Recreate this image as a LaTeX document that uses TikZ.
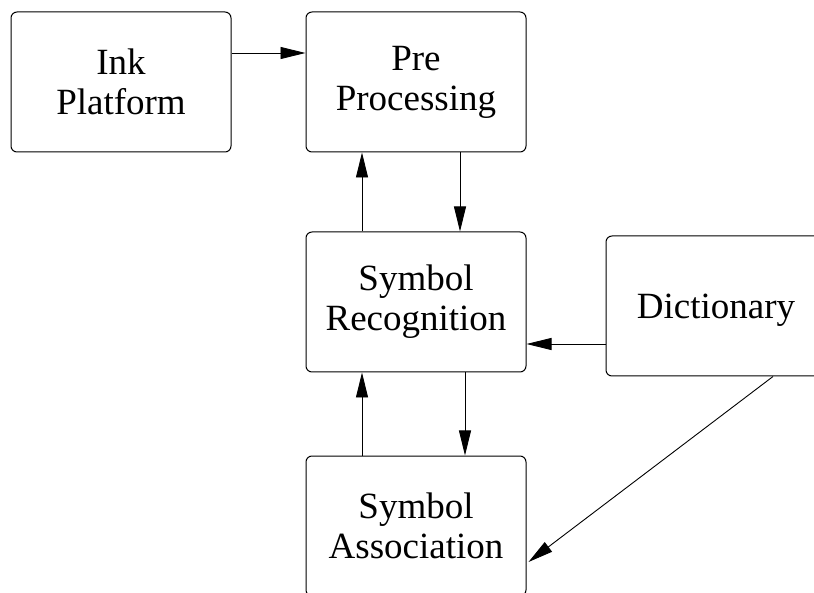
\documentclass[tikz,border=0pt]{standalone}
\usepackage{fontspec}
\setmainfont{Liberation Serif}
\newfontfamily\diafont{Liberation Serif}
\usetikzlibrary{arrows.meta}
\begin{document}
\begin{tikzpicture}[x=1pt,y=-1pt,
  box/.style={draw,line width=1pt,rounded corners=6pt,minimum width=220pt,minimum height=140pt,inner sep=0pt,align=center,font=\diafont\fontsize{37}{40}\selectfont},
  arr/.style={line width=0.9pt,-{Triangle[length=25pt,width=12pt]}}]
\useasboundingbox[fill=white] (0,0) rectangle (814,593);
\node[box] (ink) at (121,82) {Ink\\Platform};
\node[box] (pre) at (416,82) {Pre\\Processing};
\node[box] (rec) at (416,302) {Symbol\\Recognition};
\node[box] (dict) at (716,306) {\raisebox{-13pt}[0pt][0pt]{Dictionary}};
\node[box] (assoc) at (416,526) {Symbol\\Association};
\draw[arr] ([yshift=29pt]ink.east) -- ([yshift=29pt]pre.west);
\draw[arr] ([xshift=-54pt]rec.north) -- ([xshift=-54pt]pre.south);
\draw[arr] ([xshift=44pt]pre.south) -- ([xshift=44pt]rec.north);
\draw[arr] ([xshift=-54pt]assoc.north) -- ([xshift=-54pt]rec.south);
\draw[arr] ([xshift=49pt]rec.south) -- ([xshift=49pt]assoc.north);
\draw[arr] ([yshift=-38pt]dict.west) -- ([yshift=-38pt]dict.west -| rec.east);
\draw[arr] ([xshift=57pt]dict.south) -- ([xshift=2pt,yshift=-36pt]assoc.east);
\end{tikzpicture}
\end{document}
